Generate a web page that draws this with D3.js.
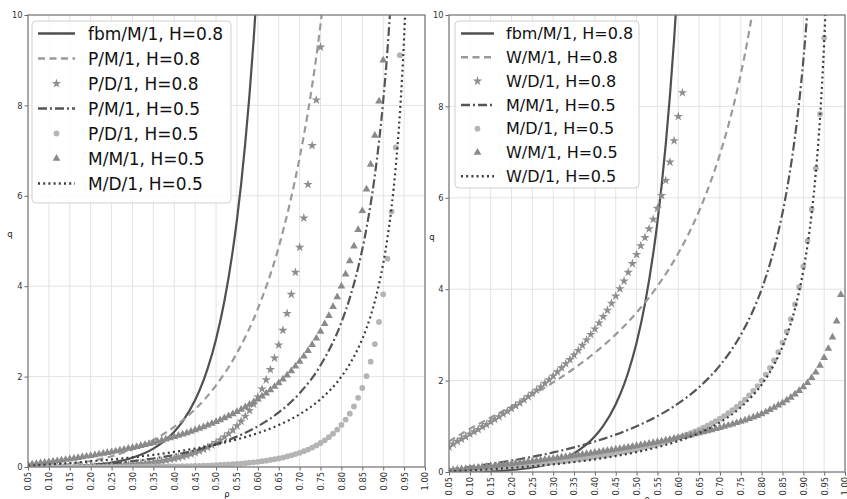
<!DOCTYPE html>
<html><head><meta charset="utf-8">
<script src="https://cdn.jsdelivr.net/npm/d3@7"></script>
<style>body{margin:0;background:#fff}svg{display:block;font-family:"DejaVu Sans",sans-serif}</style>
</head><body><svg id="c" width="847" height="499"></svg>
<script>
// ---------- categories / ticks ----------
const rhoGrid = d3.range(5, 100).map(i => i / 100);   // marker abscissae 0.05 .. 0.99
const xTickValues = [0.05,0.10,0.15,0.20,0.25,0.30,0.35,0.40,0.45,0.50,0.55,0.60,0.65,0.70,0.75,0.80,0.85,0.90,0.95,1.00];
const xTickLabels = ["0.05","0.10","0.15","0.20","0.25","0.30","0.35","0.40","0.45","0.50","0.55","0.60","0.65","0.70","0.75","0.80","0.85","0.90","0.95","1.00"];
const yTickValues = [0,2,4,6,8,10];
const yTickLabels = ["0","2","4","6","8","10"];

// ---------- shared line: fbm/M/1, H=0.8 ----------
const fbmRho = [0.05,0.10,0.15,0.20,0.25,0.30,0.35,0.40,0.42,0.45,0.47,0.48,0.50,0.52,0.54,0.55,0.56,0.57,0.58,0.59,0.60];
const fbmQ   = [0.0007,0.0048,0.0167,0.0437,0.0988,0.2053,0.406,0.781,1.01,1.484,1.919,2.183,2.828,3.673,4.786,5.47,6.261,7.175,8.233,9.462,10.89];

// ---------- left panel ----------
const leftPM08Rho = [0.05,0.10,0.15,0.20,0.25,0.30,0.35,0.40,0.45,0.50,0.55,0.60,0.65,0.70,0.72,0.74,0.76];
const leftPM08Q   = [0.0047,0.0242,0.0648,0.133,0.238,0.389,0.600,0.888,1.279,1.807,2.522,3.501,4.868,6.845,7.86,9.08,10.55];
const leftPD08 = [ // from rho=0.05, step 0.01
 0,0,0.001,0.001,0.001,0.002,0.002,0.003,0.004,0.005,
 0.006,0.007,0.009,0.010,0.012,0.014,0.016,0.019,0.022,0.026,
 0.030,0.034,0.039,0.045,0.051,0.058,0.066,0.074,0.084,0.094,
 0.106,0.119,0.133,0.149,0.167,0.186,0.207,0.231,0.257,0.286,
 0.318,0.354,0.393,0.437,0.485,0.539,0.598,0.664,0.737,0.819,
 0.909,1.011,1.124,1.250,1.391,1.55,1.727,1.928,2.154,2.408,
 2.70,3.024,3.396,3.820,4.307,4.86,5.508,6.251,7.112,8.12,
 9.29];
const leftPM05Rho = [0.05,0.10,0.15,0.20,0.25,0.30,0.35,0.40,0.45,0.50,0.55,0.60,0.65,0.70,0.75,0.80,0.82,0.84,0.86,0.88,0.89,0.90,0.91,0.92];
const leftPM05Q   = [0.0026,0.0111,0.0265,0.05,0.0833,0.1286,0.1885,0.2667,0.3682,0.5,0.6722,0.9,1.2071,1.6333,2.25,3.2,3.7356,4.41,5.2829,6.4533,7.2009,8.1,9.2011,10.58];
const leftPD05 = [
 0,0,0,0,0,0,0,0,0,0,
 0,0,0,0,0,0.001,0.001,0.001,0.001,0.001,
 0.002,0.002,0.002,0.003,0.003,0.004,0.004,0.005,0.006,0.006,
 0.007,0.008,0.009,0.010,0.012,0.013,0.015,0.017,0.019,0.021,
 0.024,0.027,0.030,0.033,0.037,0.042,0.046,0.051,0.057,0.063,
 0.070,0.077,0.085,0.095,0.105,0.116,0.128,0.141,0.156,0.172,
 0.190,0.210,0.233,0.257,0.285,0.315,0.349,0.387,0.429,0.477,
 0.531,0.591,0.660,0.738,0.827,0.93,1.05,1.18,1.34,1.53,
 1.75,2.01,2.33,2.72,3.21,3.82,4.61,5.65,7.07,9.11];
const leftMM05 = [
 0.053,0.064,0.075,0.087,0.099,0.111,0.124,0.136,0.149,0.163,
 0.176,0.190,0.205,0.220,0.235,0.250,0.266,0.282,0.299,0.316,
 0.333,0.351,0.370,0.389,0.408,0.429,0.449,0.471,0.493,0.515,
 0.538,0.563,0.587,0.613,0.639,0.667,0.695,0.724,0.754,0.786,
 0.818,0.852,0.887,0.923,0.961,1.0,1.041,1.083,1.128,1.174,
 1.222,1.273,1.326,1.381,1.439,1.5,1.564,1.632,1.703,1.778,
 1.857,1.941,2.030,2.125,2.226,2.333,2.448,2.571,2.704,2.846,
 3.0,3.167,3.348,3.545,3.762,4.0,4.263,4.556,4.882,5.25,
 5.667,6.143,6.692,7.333,8.091,9.0];
const leftMD05Rho = [0.05,0.10,0.15,0.20,0.25,0.30,0.35,0.40,0.45,0.50,0.55,0.60,0.65,0.70,0.75,0.80,0.82,0.84,0.86,0.88,0.90,0.91,0.92,0.93,0.94,0.95,0.955];
const leftMD05Q   = [0.0263,0.0556,0.0882,0.125,0.1667,0.2143,0.2692,0.3333,0.4091,0.5,0.6111,0.75,0.9286,1.1667,1.5,2.0,2.2778,2.625,3.0714,3.6667,4.5,5.0556,5.75,6.6429,7.8333,9.5,10.61];

// ---------- right panel ----------
const rightWM08Rho = [0.05,0.10,0.15,0.20,0.25,0.30,0.35,0.40,0.45,0.50,0.55,0.60,0.65,0.70,0.72,0.74,0.76,0.78];
const rightWM08Q   = [0.668,0.945,1.191,1.434,1.687,1.961,2.265,2.611,3.011,3.487,4.065,4.785,5.711,6.955,7.58,8.30,9.15,10.16];
const rightWD08 = [
 0.55,0.61,0.67,0.72,0.77,0.83,0.88,0.93,0.99,1.04,
 1.10,1.15,1.21,1.27,1.33,1.39,1.45,1.51,1.58,1.65,
 1.72,1.79,1.86,1.94,2.02,2.10,2.19,2.28,2.37,2.46,
 2.56,2.66,2.77,2.89,3.01,3.13,3.26,3.40,3.54,3.69,
 3.85,4.01,4.18,4.37,4.56,4.76,4.95,5.13,5.32,5.53,
 5.77,6.05,6.38,6.78,7.25,7.78,8.30];
const rightMM05Rho = [0.05,0.10,0.15,0.20,0.25,0.30,0.35,0.40,0.45,0.50,0.55,0.60,0.65,0.70,0.75,0.78,0.80,0.82,0.84,0.86,0.87,0.88,0.89,0.90,0.91];
const rightMM05Q   = [0.0526,0.1111,0.1765,0.25,0.3333,0.4286,0.5385,0.6667,0.8182,1,1.2222,1.5,1.8571,2.3333,3,3.5455,4,4.5556,5.25,6.1429,6.6923,7.3333,8.0909,9,10.11];
const rightMD05 = [
 0.026,0.032,0.038,0.043,0.049,0.056,0.062,0.068,0.075,0.081,
 0.088,0.095,0.102,0.110,0.117,0.125,0.133,0.141,0.149,0.158,
 0.167,0.176,0.185,0.194,0.204,0.214,0.225,0.235,0.246,0.258,
 0.269,0.281,0.294,0.306,0.320,0.333,0.347,0.362,0.377,0.393,
 0.409,0.426,0.443,0.462,0.480,0.5,0.520,0.542,0.564,0.587,
 0.611,0.636,0.663,0.690,0.720,0.75,0.782,0.816,0.851,0.889,
 0.929,0.971,1.015,1.063,1.113,1.167,1.224,1.286,1.352,1.423,
 1.5,1.583,1.674,1.773,1.881,2.0,2.132,2.278,2.441,2.625,
 2.833,3.071,3.346,3.667,4.045,4.5,5.056,5.75,6.643,7.833,
 9.5];
const rightWM05 = [
 0.038,0.046,0.055,0.064,0.073,0.082,0.091,0.101,0.110,0.120,
 0.130,0.140,0.150,0.161,0.171,0.182,0.193,0.204,0.215,0.226,
 0.237,0.249,0.260,0.272,0.284,0.296,0.308,0.321,0.333,0.346,
 0.359,0.372,0.385,0.398,0.412,0.425,0.439,0.453,0.468,0.482,
 0.497,0.512,0.527,0.542,0.558,0.574,0.590,0.607,0.624,0.641,
 0.658,0.676,0.694,0.712,0.731,0.750,0.770,0.790,0.810,0.831,
 0.853,0.875,0.897,0.920,0.944,0.969,0.994,1.020,1.047,1.075,
 1.104,1.134,1.165,1.197,1.231,1.27,1.31,1.36,1.41,1.46,
 1.51,1.57,1.63,1.70,1.78,1.86,1.95,2.06,2.18,2.33,
 2.50,2.70,2.95,3.30,3.88];
const rightWD05Rho = [0.05,0.10,0.15,0.20,0.25,0.30,0.35,0.40,0.45,0.50,0.55,0.60,0.65,0.70,0.75,0.80,0.82,0.84,0.86,0.88,0.90,0.91,0.92,0.93,0.94,0.95,0.955];
const rightWD05Q   = [0.0144,0.0351,0.0604,0.0906,0.1263,0.1684,0.2183,0.2775,0.3487,0.4353,0.5422,0.6771,0.8519,1.0863,1.416,1.9126,2.189,2.535,2.98,3.574,4.406,4.961,5.654,6.547,7.737,9.403,10.51];

const leftNames  = ["fbm/M/1, H=0.8","P/M/1, H=0.8","P/D/1, H=0.8","P/M/1, H=0.5","P/D/1, H=0.5","M/M/1, H=0.5","M/D/1, H=0.5"];
const rightNames = ["fbm/M/1, H=0.8","W/M/1, H=0.8","W/D/1, H=0.8","M/M/1, H=0.5","M/D/1, H=0.5","W/M/1, H=0.5","W/D/1, H=0.5"];

// ---------- styles ----------
const STY = {
  solid:   {kind:"line", stroke:"#505050", w:2.2, dash:null},
  dashed:  {kind:"line", stroke:"#9a9a9a", w:2.2, dash:"7,4.5"},
  dashdot: {kind:"line", stroke:"#555555", w:2.2, dash:"9,3,2,3"},
  dotted:  {kind:"line", stroke:"#3c3c3c", w:2.2, dash:"2,3.2"},
  star:    {kind:"mark", sym:d3.symbolStar, size:28, fill:"#8e8e8e"},
  circle:  {kind:"mark", sym:d3.symbolCircle, size:26, fill:"#b4b4b4"},
  tri:     {kind:"mark", sym:d3.symbolTriangle, size:26, fill:"#8a8a8a"}
};

const line = (rho, q) => rho.map((r, i) => [r, q[i]]);
const marks = vals => vals.map((q, i) => [rhoGrid[i], q]);

const panels = [
  {id:"L", x0:28, x1:425, y0:15, y1:467, qLab:[10,237], rhoLab:[227,497],
   legend:{x:32, y:21, w:199, h:182, row0:33.5, dy:25, lx0:38, lx1:75, tx:88, fs:17},
   names:leftNames,
   series:[
     {sty:"solid",   pts:line(fbmRho, fbmQ)},
     {sty:"dashed",  pts:line(leftPM08Rho, leftPM08Q)},
     {sty:"star",    pts:marks(leftPD08)},
     {sty:"dashdot", pts:line(leftPM05Rho, leftPM05Q)},
     {sty:"circle",  pts:marks(leftPD05)},
     {sty:"tri",     pts:marks(leftMM05)},
     {sty:"dotted",  pts:line(leftMD05Rho, leftMD05Q)}
   ]},
  {id:"R", x0:449, x1:845, y0:15, y1:472, qLab:[432,240], rhoLab:[647,502],
   legend:{x:455, y:21, w:184, h:167, row0:33.5, dy:23.8, lx0:461, lx1:494, tx:506, fs:16},
   names:rightNames,
   series:[
     {sty:"solid",   pts:line(fbmRho, fbmQ)},
     {sty:"dashed",  pts:line(rightWM08Rho, rightWM08Q)},
     {sty:"star",    pts:marks(rightWD08)},
     {sty:"dashdot", pts:line(rightMM05Rho, rightMM05Q)},
     {sty:"circle",  pts:marks(rightMD05)},
     {sty:"tri",     pts:marks(rightWM05)},
     {sty:"dotted",  pts:line(rightWD05Rho, rightWD05Q)}
   ]}
];

const svg = d3.select("#c");
svg.append("rect").attr("width",847).attr("height",499).attr("fill","#fff");

panels.forEach(p => {
  const x = d3.scaleLinear().domain([0.05, 1.0]).range([p.x0, p.x1]);
  const y = d3.scaleLinear().domain([0, 10]).range([p.y1, p.y0]);
  const g = svg.append("g");

  g.selectAll(".vg").data(xTickValues.slice(1, -1)).join("line")
    .attr("x1", d => x(d)).attr("x2", d => x(d)).attr("y1", p.y0).attr("y2", p.y1)
    .attr("stroke", "#e3e3e3").attr("stroke-width", 1);
  g.selectAll(".hg").data(yTickValues.slice(1, -1)).join("line")
    .attr("x1", p.x0).attr("x2", p.x1).attr("y1", d => y(d)).attr("y2", d => y(d))
    .attr("stroke", "#e3e3e3").attr("stroke-width", 1);

  const xa = g.append("g").attr("transform", `translate(0,${p.y1})`)
    .call(d3.axisBottom(x).tickValues(xTickValues).tickFormat((d, i) => xTickLabels[i]).tickSize(3.5).tickPadding(2));
  xa.select(".domain").remove();
  xa.selectAll("line").attr("stroke", "#666");
  xa.selectAll("text").attr("transform", "rotate(-90)").attr("text-anchor", "end")
    .attr("x", -5).attr("y", 0).attr("dy", "0.35em")
    .attr("font-size", 8.3).attr("fill", "#333").attr("font-family", "DejaVu Sans");
  const ya = g.append("g").attr("transform", `translate(${p.x0},0)`)
    .call(d3.axisLeft(y).tickValues(yTickValues).tickFormat((d, i) => yTickLabels[i]).tickSize(3.5).tickPadding(2));
  ya.select(".domain").remove();
  ya.selectAll("line").attr("stroke", "#666");
  ya.selectAll("text").attr("font-size", 8.3).attr("fill", "#333").attr("font-family", "DejaVu Sans");

  const cid = "clip" + p.id;
  svg.append("clipPath").attr("id", cid).append("rect")
    .attr("x", p.x0).attr("y", p.y0).attr("width", p.x1 - p.x0).attr("height", p.y1 - p.y0);
  const plot = g.append("g").attr("clip-path", `url(#${cid})`);

  const lg = d3.line().x(d => x(d[0])).y(d => y(d[1])).curve(d3.curveMonotoneX);
  p.series.forEach(s => {
    const st = STY[s.sty];
    if (st.kind === "line") {
      plot.append("path").attr("d", lg(s.pts)).attr("fill", "none")
        .attr("stroke", st.stroke).attr("stroke-width", st.w)
        .attr("stroke-dasharray", st.dash).attr("stroke-linecap", "butt");
    } else {
      const sym = d3.symbol().type(st.sym).size(st.size);
      plot.selectAll(null).data(s.pts.filter(d => d[1] <= 10)).join("path")
        .attr("d", sym).attr("transform", d => `translate(${x(d[0])},${y(d[1])})`)
        .attr("fill", st.fill);
    }
  });

  g.append("rect").attr("x", p.x0).attr("y", p.y0).attr("width", p.x1 - p.x0).attr("height", p.y1 - p.y0)
    .attr("fill", "none").attr("stroke", "#7a7a7a").attr("stroke-width", 1.3);

  g.append("text").attr("x", p.qLab[0]).attr("y", p.qLab[1]).attr("font-size", 8.5).attr("fill", "#222")
    .attr("text-anchor", "middle").text("q");
  g.append("text").attr("x", p.rhoLab[0]).attr("y", p.rhoLab[1]).attr("font-size", 8.5).attr("fill", "#222")
    .attr("text-anchor", "middle").text("ρ");

  const L = p.legend;
  const lgG = g.append("g");
  lgG.append("rect").attr("x", L.x).attr("y", L.y).attr("width", L.w).attr("height", L.h).attr("rx", 4)
    .attr("fill", "#fff").attr("fill-opacity", 0.85).attr("stroke", "#d0d0d0").attr("stroke-width", 1);
  p.series.forEach((s, i) => {
    const st = STY[s.sty];
    const cy = L.row0 + i * L.dy;
    if (st.kind === "line") {
      lgG.append("line").attr("x1", L.lx0).attr("x2", L.lx1).attr("y1", cy).attr("y2", cy)
        .attr("stroke", st.stroke).attr("stroke-width", st.w + 0.3).attr("stroke-dasharray", st.dash);
    } else {
      lgG.append("path").attr("d", d3.symbol().type(st.sym).size(st.size)())
        .attr("transform", `translate(${(L.lx0 + L.lx1) / 2},${cy})`).attr("fill", st.fill);
    }
    lgG.append("text").attr("x", L.tx).attr("y", cy).attr("dy", "0.36em")
      .attr("font-size", L.fs).attr("fill", "#111").text(p.names[i]);
  });
});
</script></body></html>
